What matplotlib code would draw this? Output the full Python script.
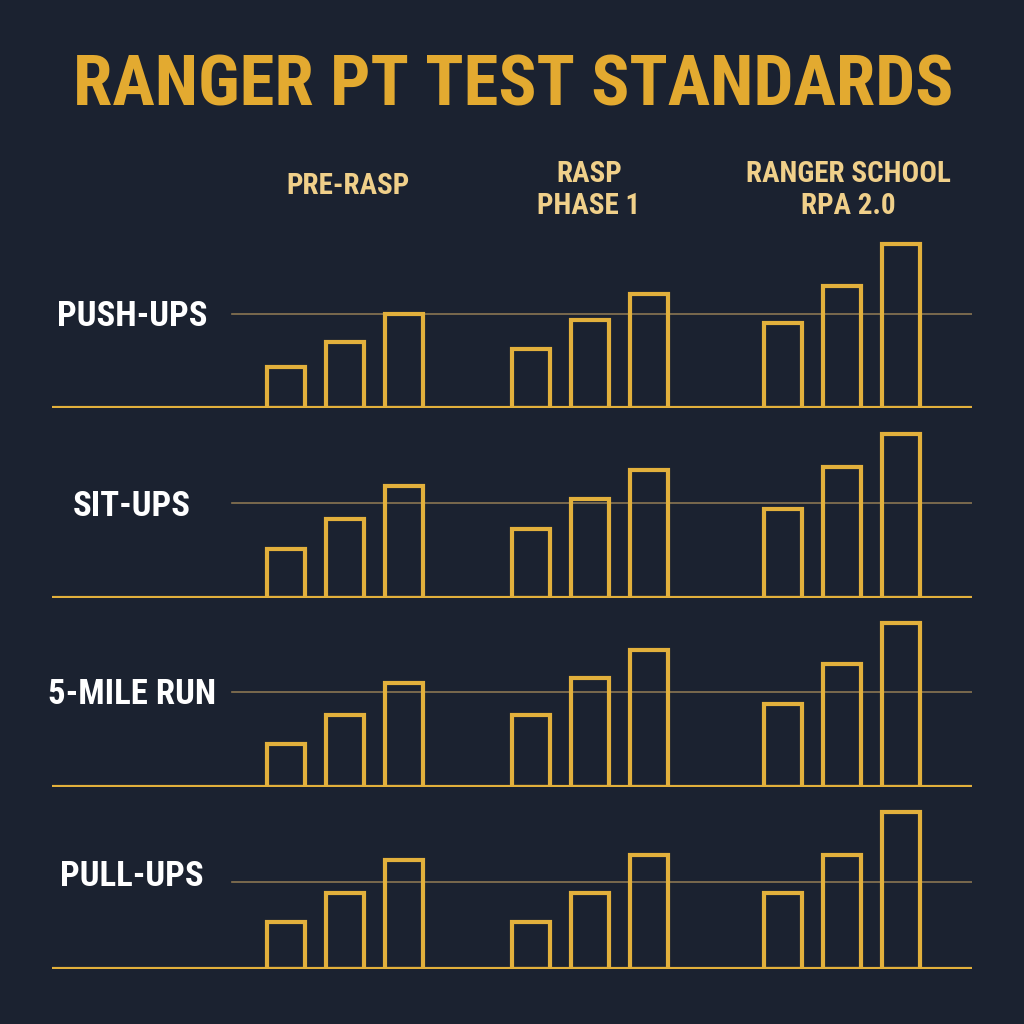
import matplotlib
matplotlib.use("Agg")
import matplotlib.pyplot as plt
from matplotlib import font_manager

names = {f.name for f in font_manager.fontManager.ttflist}
cond = [n for n in ["Liberation Sans Narrow", "DejaVu Sans Condensed", "Roboto Condensed", "Open Sans Condensed"] if n in names]
FAM = cond + ["DejaVu Sans"]

BG = "#1b2230"
GOLD = "#e2b03c"
TITLE_GOLD = "#e3aa30"
HEAD_GOLD = "#f0d08a"
REF = "#8a7652"

title = "RANGER PT TEST STANDARDS"
groups = ["PRE-RASP", "RASP\nPHASE 1", "RANGER SCHOOL\nRPA 2.0"]
events = ["PUSH-UPS", "SIT-UPS", "5-MILE RUN", "PULL-UPS"]

# bar heights (relative units), per event: per group three levels
push_ups = [[41, 66, 94], [59, 88, 114], [85, 122, 164]]
sit_ups = [[49, 79, 112], [69, 99, 128], [89, 131, 164]]
run_5mi = [[43, 72, 104], [72, 109, 137], [83, 123, 164]]
pull_ups = [[47, 76, 109], [47, 76, 114], [76, 114, 157]]
ref_levels = [94, 95, 95, 87]
data = [push_ups, sit_ups, run_5mi, pull_ups]

W = H = 1024
fig = plt.figure(figsize=(10.24, 10.24), dpi=100, facecolor=BG)

baselines = [408, 598, 787, 969]
row_h = 180
x_left, x_right = 52, 972
group_centers = [345, 590, 842]
offsets = [-59, 0, 59]
bw = 38

for r, (vals, base) in enumerate(zip(data, baselines)):
    ax = fig.add_axes([x_left / W, (H - base) / H, (x_right - x_left) / W, row_h / H])
    ax.set_facecolor("none")
    ax.set_xlim(x_left, x_right)
    ax.set_ylim(0, row_h)
    for gi, gvals in enumerate(vals):
        xs = [group_centers[gi] + o for o in offsets]
        ax.bar(xs, gvals, width=bw, bottom=0, facecolor="none",
               edgecolor=GOLD, linewidth=3.0, zorder=3)
    ax.axhline(ref_levels[r], xmin=(232 - x_left) / (x_right - x_left), xmax=1.0,
               color=REF, linewidth=1.2, zorder=2)
    ax.axhline(0, color=GOLD, linewidth=3.0, zorder=4)
    for s in ax.spines.values():
        s.set_visible(False)
    ax.set_xticks([])
    ax.set_yticks([])
    fig.text(132 / W, 1 - (base - 92) / H, events[r], color="white",
             fontsize=25, fontweight="bold", family=FAM, ha="center", va="center")

fig.text(513 / W, 1 - 86 / H, title, color=TITLE_GOLD, fontsize=51,
         fontweight="bold", family=FAM, ha="center", va="center")
head_y = [186, 190, 190]
head_x = [348, 589, 848]
for gi, g in enumerate(groups):
    fig.text(head_x[gi] / W, 1 - head_y[gi] / H, g,
             color=HEAD_GOLD, fontsize=21, fontweight="bold", family=FAM,
             ha="center", va="center", linespacing=1.2)

fig.savefig("out.png", dpi=100, facecolor=BG)
